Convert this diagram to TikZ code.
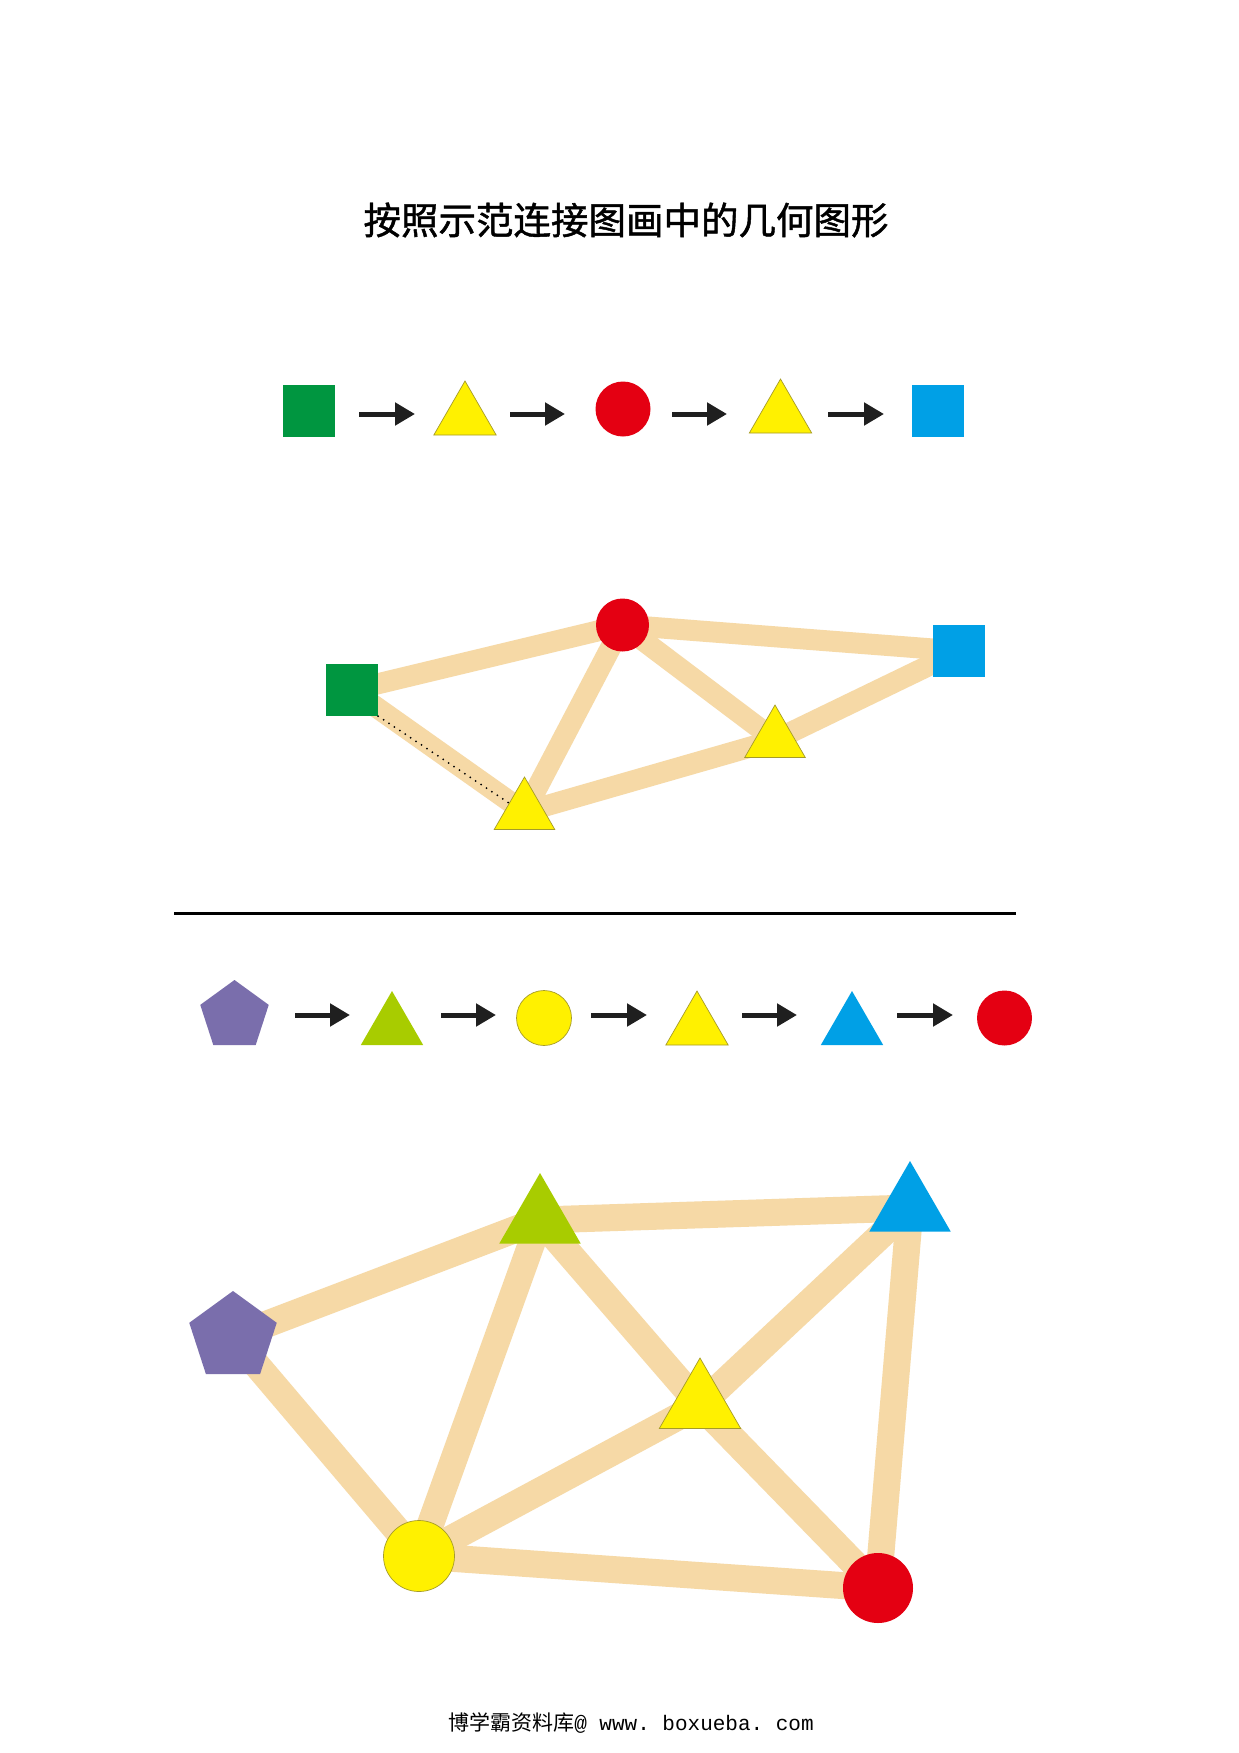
\documentclass[tikz,border=0pt]{standalone}
\usepackage{fontspec}
\newfontfamily\cjk{Noto Sans CJK SC}
\newfontfamily\cjkbold{Noto Sans CJK SC}[FakeBold=1.2]
\setmonofont{Liberation Mono}
\usetikzlibrary{arrows.meta,%
                shapes.geometric,backgrounds}
\definecolor{grn}{RGB}{0,150,64}
\definecolor{ylw}{RGB}{255,241,0}
\definecolor{ylwline}{RGB}{165,155,40}
\definecolor{redd}{RGB}{228,0,18}
\definecolor{blu}{RGB}{0,160,230}
\definecolor{pur}{RGB}{122,110,172}
\definecolor{lime}{RGB}{168,204,0}
\definecolor{wood}{RGB}{246,217,166}

\begin{document}
\begin{tikzpicture}[x=1pt,y=-1pt,
  sq/.style={rectangle,inner sep=0pt,minimum size=52pt},
  disc/.style={circle,inner sep=0pt,minimum size=55pt},
  tri/.style={regular polygon,regular polygon sides=3,inner sep=0pt,minimum size=72pt},
  pent/.style={regular polygon,regular polygon sides=5,inner sep=0pt,minimum size=72pt},
  yel/.style={fill=ylw,draw=ylwline,line width=0.7pt},
  band/.style={draw=wood,line width=21pt},
  arr/.style={draw=black!88,line width=5pt,-{Triangle[length=20pt,width=22pt]}}]
\begin{scope}[on background layer]
\fill[white] (0,0) rectangle (1239,1753);
\end{scope}
\useasboundingbox (0,0) rectangle (1239,1753);

\node (title) at (626,220) {\cjkbold\fontsize{37.5}{40}\selectfont 按照示范连接图画中的几何图形};

\coordinate (RA) at (0,414);
\node[sq,fill=grn] (QA) at (309,411) {};
\node[tri,yel] (TA) at (465,417) {};
\node[disc,fill=redd] (CA) at (623,409) {};
\node[tri,yel] (TB) at (780.5,415) {};
\node[sq,fill=blu] (QB) at (937.5,410.5) {};

\draw[arr,shorten <=50pt,shorten >=50pt] (QA |- RA) -- (TA |- RA);
\draw[arr,shorten <=45pt,shorten >=58pt] (TA |- RA) -- (CA |- RA);
\draw[arr,shorten <=49pt,shorten >=53.5pt] (CA |- RA) -- (TB |- RA);
\draw[arr,shorten <=47.5pt,shorten >=53.5pt] (TB |- RA) -- (QB |- RA);

\node[sq,fill=grn] (QC) at (352,690) {};
\node[disc,fill=redd,minimum size=53pt] (CB) at (622.5,625) {};
\node[sq,fill=blu] (QD) at (959,651) {};
\node[tri,yel,minimum size=70pt] (TC) at (775,740) {};
\node[tri,yel,minimum size=70pt] (TD) at (524.5,812) {};

\begin{scope}[on background layer]
\draw[band] (QC.center) -- (CB.center);
\draw[band] (QC.center) -- (TD.center);
\draw[band] (CB.center) -- (TD.center);
\draw[band] (CB.center) -- (TC.center);
\draw[band] (CB.center) -- (QD.center);
\draw[band] (QD.center) -- (TC.center);
\draw[band] (TC.center) -- (TD.center);
\end{scope}
\draw[line width=2pt,line cap=round,dash pattern=on 0pt off 6.5pt] (QC.south east) -- (TD.side 1);

\draw[line width=3pt] (174,913) -- (1016,913);

\coordinate (RB) at (0,1015);
\node[pent,fill=pur] (PA) at (234.5,1016) {};
\node[tri,fill=lime] (TE) at (392,1027) {};
\node[disc,yel] (CC) at (544,1018) {};
\node[tri,yel] (TF) at (697,1027) {};
\node[tri,fill=blu] (TG) at (852,1027) {};
\node[disc,fill=redd] (CD) at (1004.5,1018) {};

\draw[arr,shorten <=60.5pt,shorten >=42pt] (PA |- RB) -- (TE |- RB);
\draw[arr,shorten <=49pt,shorten >=48pt] (TE |- RB) -- (CC |- RB);
\draw[arr,shorten <=47pt,shorten >=50pt] (CC |- RB) -- (TF |- RB);
\draw[arr,shorten <=45pt,shorten >=55pt] (TF |- RB) -- (TG |- RB);
\draw[arr,shorten <=45pt,shorten >=51.5pt] (TG |- RB) -- (CD |- RB);

\node[pent,fill=pur,minimum size=92pt] (PB) at (233,1337) {};
\node[tri,fill=lime,minimum size=94pt] (TH) at (540,1220) {};
\node[tri,fill=blu,minimum size=94pt] (TI) at (910,1208) {};
\node[tri,yel,minimum size=94pt] (TJ) at (700,1405) {};
\node[disc,yel,minimum size=71pt] (CE) at (419,1556) {};
\node[disc,fill=redd,minimum size=70pt] (CF) at (878,1588) {};

\begin{scope}[on background layer,every path/.style={band,line width=27pt}]
\draw (PB.center) -- (TH.center);
\draw (PB.center) -- (CE.center);
\draw (TH.center) -- (TI.center);
\draw (TH.center) -- (CE.center);
\draw (TH.center) -- (TJ.center);
\draw (TJ.center) -- (CF.center);
\draw (TI.center) -- (TJ.center);
\draw (TJ.center) -- (CE.center);
\draw (TI.center) -- (CF.center);
\draw (CE.center) -- (CF.center);
\end{scope}

\node (foot) at (631,1723) {\fontsize{21}{24}\selectfont{\cjk 博学霸资料库}{\ttfamily @ www. boxueba. com}};

\end{tikzpicture}
\end{document}
